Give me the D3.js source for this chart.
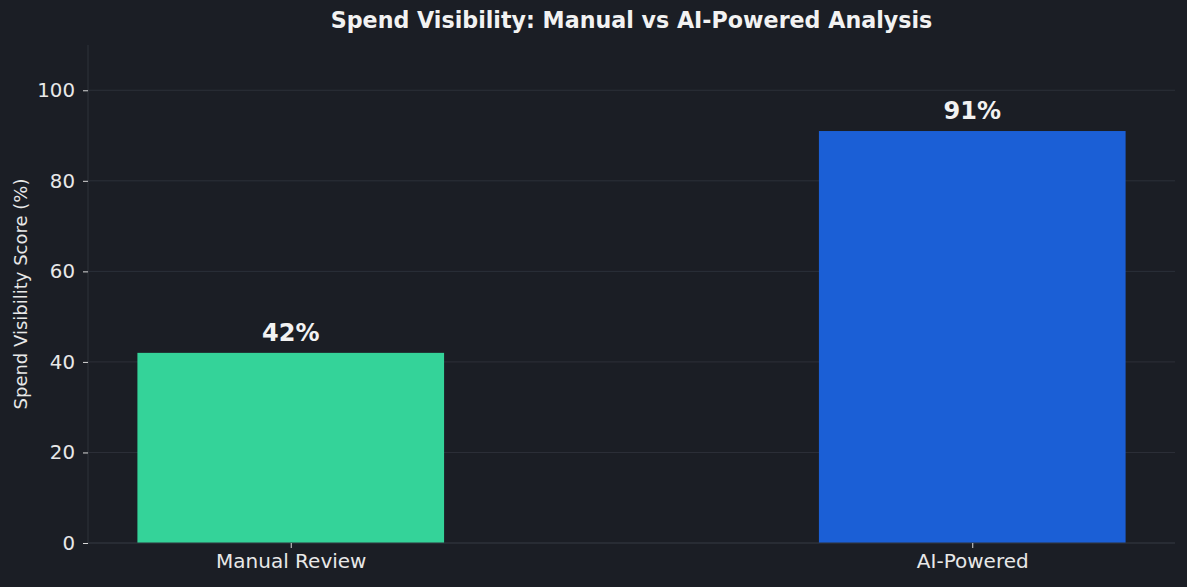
<!DOCTYPE html>
<html>
<head>
<meta charset="utf-8">
<script src="https://cdn.jsdelivr.net/npm/d3@7"></script>
<style>
  html, body { margin: 0; padding: 0; background: #1b1e25; }
  svg { display: block; }
</style>
</head>
<body>
<script>
const categories = ["Manual Review", "AI-Powered"];
const scores = [42, 91];
const barColors = ["#34d399", "#1b5fd6"];
const yTicks = [0, 20, 40, 60, 80, 100];

const width = 1187, height = 587;
const margin = {top: 45, right: 12, bottom: 44, left: 88};

const svg = d3.select("body").append("svg")
    .attr("width", width)
    .attr("height", height)
    .style("font-family", "'DejaVu Sans', sans-serif");

svg.append("rect")
    .attr("width", width)
    .attr("height", height)
    .attr("fill", "#1b1e25");

// matplotlib-like band: bar width 0.45, 5% margins
const x = d3.scaleLinear()
    .domain([-0.2975, 1.2975])
    .range([margin.left, width - margin.right]);
const barW = 0.45;

const y = d3.scaleLinear()
    .domain([0, 110])
    .range([height - margin.bottom, margin.top]);

// grid
svg.append("g")
    .selectAll("line")
    .data(yTicks)
    .join("line")
      .attr("x1", margin.left)
      .attr("x2", width - margin.right)
      .attr("y1", d => y(d))
      .attr("y2", d => y(d))
      .attr("stroke", "#2c3039")
      .attr("stroke-width", 1);

// bars
svg.append("g")
    .selectAll("rect")
    .data(scores)
    .join("rect")
      .attr("x", (d, i) => x(i - barW / 2))
      .attr("width", (d, i) => x(i + barW / 2) - x(i - barW / 2))
      .attr("y", d => y(d))
      .attr("height", d => y(0) - y(d))
      .attr("fill", (d, i) => barColors[i]);

// value labels
svg.append("g")
    .selectAll("text")
    .data(scores)
    .join("text")
      .attr("x", (d, i) => x(i))
      .attr("y", d => y(d) - 12)
      .attr("text-anchor", "middle")
      .attr("fill", "#f2f2f2")
      .attr("font-size", 24)
      .attr("font-weight", "bold")
      .text(d => `${d}%`);

// spines
svg.append("line")
    .attr("x1", margin.left).attr("x2", margin.left)
    .attr("y1", margin.top).attr("y2", y(0))
    .attr("stroke", "#2e323b");
svg.append("line")
    .attr("x1", margin.left).attr("x2", width - margin.right)
    .attr("y1", y(0)).attr("y2", y(0))
    .attr("stroke", "#2e323b");

// y axis
const yAxis = svg.append("g")
    .attr("transform", `translate(${margin.left},0)`)
    .call(d3.axisLeft(y).tickValues(yTicks).tickSize(5).tickPadding(8));
yAxis.select(".domain").remove();
yAxis.selectAll(".tick line").attr("stroke", "#d8d8d8");
yAxis.selectAll(".tick text")
    .attr("fill", "#e8e8e8")
    .attr("font-size", 19.8)
    .attr("font-family", "'DejaVu Sans', sans-serif");

// x axis
const xAxis = svg.append("g")
    .attr("transform", `translate(0,${y(0)})`)
    .call(d3.axisBottom(x).tickValues(d3.range(categories.length))
      .tickFormat(i => categories[i]).tickSize(5).tickPadding(6));
xAxis.select(".domain").remove();
xAxis.selectAll(".tick line").attr("stroke", "#d8d8d8");
xAxis.selectAll(".tick text")
    .attr("fill", "#e8e8e8")
    .attr("font-size", 20)
    .attr("font-family", "'DejaVu Sans', sans-serif");

// y label
svg.append("text")
    .attr("transform", `translate(26.5,${(margin.top + y(0)) / 2}) rotate(-90)`)
    .attr("text-anchor", "middle")
    .attr("fill", "#e8e8e8")
    .attr("font-size", 18)
    .text("Spend Visibility Score (%)");

// title
svg.append("text")
    .attr("x", (margin.left + width - margin.right) / 2)
    .attr("y", 27.5)
    .attr("text-anchor", "middle")
    .attr("fill", "#f2f2f2")
    .attr("font-size", 22.2)
    .attr("font-weight", "bold")
    .text("Spend Visibility: Manual vs AI-Powered Analysis");
</script>
</body>
</html>
